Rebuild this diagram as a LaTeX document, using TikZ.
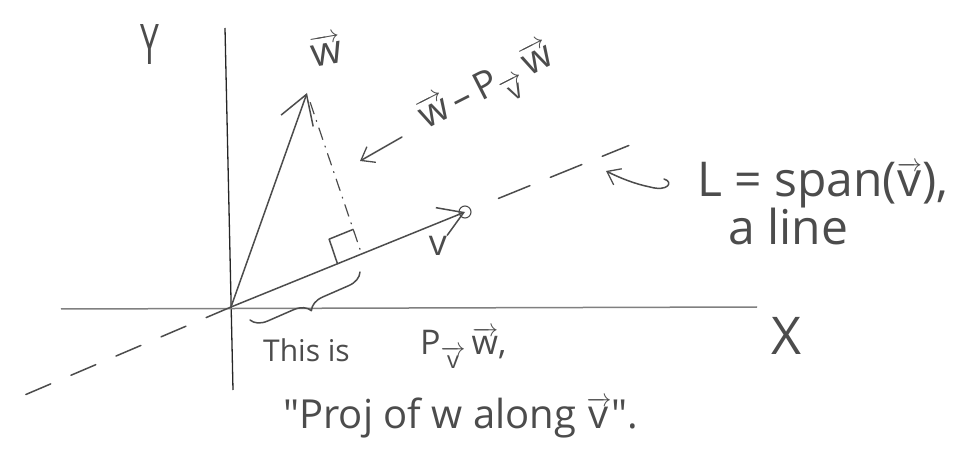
\documentclass[tikz,border=0pt]{standalone}
\usepackage{fontspec}
\usepackage{amsmath}
\setmainfont{Open Sans}[Ligatures=TeXOff]
\usetikzlibrary{arrows.meta,calc,decorations.pathreplacing}
\newcommand{\vecw}[1]{\ensuremath{\overrightarrow{\text{#1}}}}
\begin{document}
\begin{tikzpicture}[x=1pt,y=-1pt,
  pencil/.style={draw=black!70, line width=1.5pt, line cap=round, line join=round},
  lbl/.style={text=black!70, inner sep=0pt},
  bigarrow/.style={-{Straight Barb[length=28pt,width=34pt,line width=1.5pt]}},
  smallarrow/.style={-{Straight Barb[length=12pt,width=18pt,line width=1.3pt]}}]
\useasboundingbox (0,0) rectangle (972,454);
% key points
\coordinate (O) at (231,307);
\coordinate (ytop) at (225,28);
\coordinate (ybot) at (233,390);
\coordinate (xl) at (61,309);
\coordinate (xr) at (757,307);
\coordinate (wtip) at (307,93);
\coordinate (vtip) at (465,212);
\coordinate (foot) at ($(O)!0.558!(vtip)$);
\coordinate (lstart) at ($(O)!1.143!(vtip)$);
\coordinate (lend) at ($(O)!1.70!(vtip)$);
\coordinate (lneg) at (20,397);
% axes
\draw[draw=black!85, line width=1.3pt] (ytop) -- (ybot);
\draw[draw=black!50, line width=1.5pt] (xl) -- (xr);
% line L
\draw[pencil, dash pattern=on 27pt off 22pt] (O) -- (lneg);
\draw[pencil, dash pattern=on 34pt off 22pt] (lstart) -- (lend);
% vectors
\draw[pencil, bigarrow] (O) -- (wtip);
\draw[pencil, -{Straight Barb[length=24pt,width=30pt,line width=1.5pt]}] (O) -- (vtip);
\draw[pencil, line width=1.1pt] (vtip) circle (6);
% perpendicular
\draw[pencil, line width=1.2pt, dash pattern=on 12pt off 7pt on 1pt off 7pt] ($(wtip)!10pt!(foot)$) -- (foot);
\coordinate (ra1) at ($(foot)!26pt!(O)$);
\coordinate (ra2) at ($(foot)!26pt!(wtip)$);
\draw[pencil] (ra1) -- ($(ra1)+(ra2)-(foot)$) -- (ra2);
% brace
\coordinate (b1) at (250,320);
\coordinate (b2) at (360,272);
\draw[pencil, decorate, decoration={brace, mirror, amplitude=16pt, aspect=0.5}] (b1) -- (b2);
% labels
\node[lbl, font=\fontsize{56}{60}\selectfont, xscale=0.6, transform shape] (ylab) at (150,45) {Y};
\node[lbl, font=\fontsize{52}{56}\selectfont] (xlab) at (786,336) {X};
\node[lbl, font=\fontsize{40}{44}\selectfont, rotate=10] (wlab) at (326,50) {\vecw{w}};
\node[lbl, font=\fontsize{36}{40}\selectfont] (vlab) at (438,246) {v};
\node[lbl, font=\fontsize{38}{42}\selectfont, rotate=27] (diff) at (488,90) {\vecw{w}\,\textendash\,P$_{\vecw{v}}$\,\vecw{w}};
\coordinate (d1) at (402,137);
\coordinate (d2) at (360,161);
\draw[pencil, smallarrow] (d1) -- (d2);
\node[lbl, font=\fontsize{48}{52}\selectfont, anchor=base west] (span) at (697,197) {L = span(\vecw{v}),};
\node[lbl, font=\fontsize{48}{52}\selectfont, anchor=base west] (aline) at (728,245) {a line};
\coordinate (c1) at (664,179);
\coordinate (c2) at (606,171);
\draw[pencil, smallarrow] (c1) .. controls (674,182) and (668,192) .. (650,187) .. controls (635,184) and (620,178) .. (c2);
\node[lbl, font=\fontsize{30}{34}\selectfont, anchor=base west] (this) at (263,362) {This is};
\node[lbl, font=\fontsize{34}{38}\selectfont, anchor=base west] (pw) at (420,355) {P$_{\vecw{v}}$\,\vecw{w},};
\node[lbl, font=\fontsize{40}{44}\selectfont, anchor=base west] (proj) at (283,428) {"Proj of w along \vecw{v}".};
\end{tikzpicture}
\end{document}
